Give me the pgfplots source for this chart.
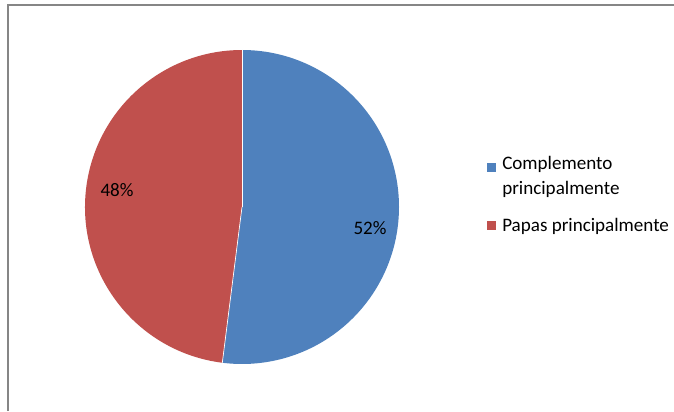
\documentclass[border=0pt]{standalone}
\usepackage{pgfplots}
\usepackage{pgfplotstable}
\pgfplotsset{compat=1.18}
\usepackage{fontspec}
\setmainfont{Carlito}
\definecolor{pieblue}{RGB}{79,129,189}
\definecolor{piered}{RGB}{192,80,77}
\definecolor{framegray}{RGB}{134,134,134}
\pgfplotstableread{
label value
Complemento 52
Papas 48
}\piedata
\begin{document}
\begin{tikzpicture}
\begin{axis}[
  hide axis, scale only axis,
  width=505.5pt, height=308.25pt,
  xmin=0, xmax=674, ymin=0, ymax=411,
  clip=false,
]
\pgfplotstablegetelem{0}{value}\of\piedata \let\va\pgfplotsretval
\pgfplotstablegetelem{1}{value}\of\piedata \let\vb\pgfplotsretval
\pgfmathsetmacro{\enda}{90-3.6*\va}
\pgfmathsetmacro{\endb}{\enda-3.6*\vb}
\def\R{117.75pt}
% frame
\draw[framegray, line width=0.9pt] (axis cs:8,0) -- (axis cs:8,406) -- (axis cs:674,406);
% slices
\fill[pieblue] (axis cs:242,204) -- ++(90:\R) arc[start angle=90, end angle=\enda, radius=\R] -- cycle;
\fill[piered] (axis cs:242,204) -- ++(\enda:\R) arc[start angle=\enda, end angle=\endb, radius=\R] -- cycle;
\draw[white, line width=0.5pt] (axis cs:242,204) -- ++(90:\R);
\draw[white, line width=0.5pt] (axis cs:242,204) -- ++(\enda:\R);
% labels
\node[font=\fontsize{14.3}{17}\selectfont] at (axis cs:370,183) {\va\%};
\node[font=\fontsize{14.3}{17}\selectfont] at (axis cs:117,221) {\vb\%};
% legend
\fill[pieblue] (axis cs:487,239) rectangle (axis cs:496,248);
\node[anchor=west, font=\fontsize{14.3}{19}\selectfont, align=left, inner sep=0pt] at (axis cs:502,234) {Complemento\\principalmente};
\fill[piered] (axis cs:487,181) rectangle (axis cs:496,190);
\node[anchor=west, font=\fontsize{14.3}{17}\selectfont, inner sep=0pt] at (axis cs:502,185) {Papas principalmente};
\end{axis}
\pgfresetboundingbox
\path[use as bounding box] (0,0) rectangle (505.5pt,308.25pt);
\end{tikzpicture}
\end{document}
